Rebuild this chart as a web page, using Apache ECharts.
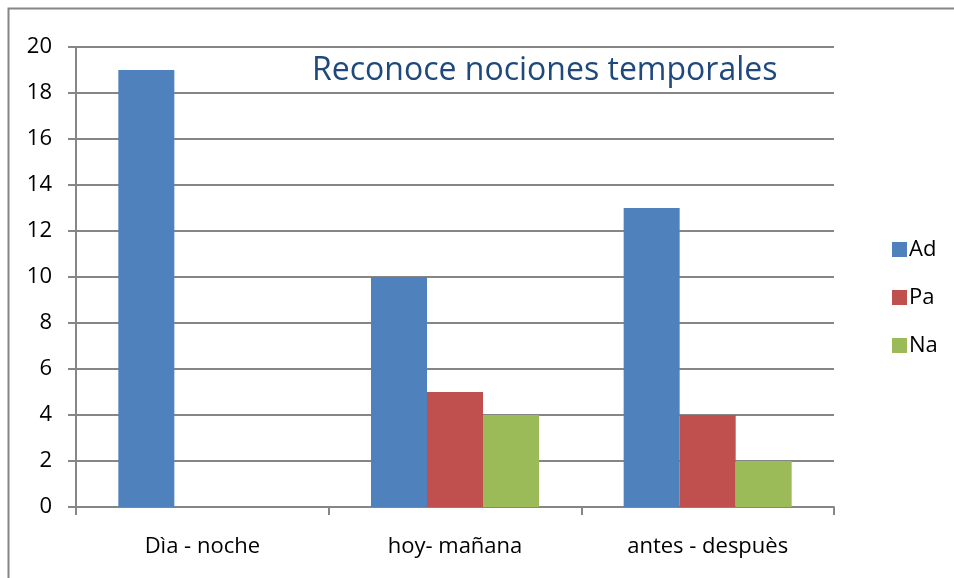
<!DOCTYPE html>
<html>
<head>
<meta charset="utf-8">
<script src="https://cdn.jsdelivr.net/npm/echarts@6/dist/echarts.min.js"></script>
<style>
  html, body { margin: 0; padding: 0; background: #fff; }
  #chart { width: 954px; height: 578px; }
</style>
</head>
<body>
<div id="chart"></div>
<script>
// datos del gráfico
var categorias = ['Dìa - noche', 'hoy- mañana', 'antes - despuès'];
var ad = [19, 10, 13];
var pa = [0, 5, 4];
var na = [0, 4, 2];
var yTicks = [0, 2, 4, 6, 8, 10, 12, 14, 16, 18, 20];

var grisEje = '#868686';
var fuente = 'Open Sans';

var myChart = echarts.init(document.getElementById('chart'));

var option = {
    backgroundColor: '#fff',
    animation: false,
    textStyle: { fontFamily: fuente },
    title: {
        text: 'Reconoce nociones temporales',
        left: 307,
        top: 50,
        textStyle: { color: '#1F497D', fontSize: 32, fontWeight: 'normal', fontFamily: fuente }
    },
    legend: {
        orient: 'vertical',
        left: 887,
        top: 233,
        itemWidth: 15,
        itemHeight: 15,
        itemGap: 25,
        icon: 'rect',
        textStyle: { fontSize: 22, color: '#000', lineHeight: 23, padding: [0, 0, 0, -3] },
        data: ['Ad', 'Pa', 'Na']
    },
    graphic: [{
        type: 'rect',
        shape: { x: 8.5, y: 8.5, width: 1000, height: 1000 },
        style: { fill: 'none', stroke: grisEje, lineWidth: 2 },
        silent: true
    }],
    grid: { left: 76, right: 120, top: 47, bottom: 71 },
    xAxis: {
        type: 'category',
        data: categorias,
        axisLine: { lineStyle: { color: grisEje, width: 2 } },
        axisTick: { show: true, length: 8, lineStyle: { color: grisEje, width: 2 } },
        axisLabel: { fontSize: 22, color: '#000', margin: 29 }
    },
    yAxis: {
        type: 'value',
        min: yTicks[0],
        max: yTicks[yTicks.length - 1],
        interval: yTicks[1] - yTicks[0],
        axisLine: { show: true, lineStyle: { color: grisEje, width: 2 } },
        axisTick: { show: true, length: 8, lineStyle: { color: grisEje, width: 2 } },
        splitLine: { lineStyle: { color: grisEje, width: 2 } },
        axisLabel: { fontSize: 22, color: '#000', margin: 24 }
    },
    series: [
        { name: 'Ad', type: 'bar', data: ad, itemStyle: { color: '#4F81BD' }, barGap: '0%', barCategoryGap: '33.5%' },
        { name: 'Pa', type: 'bar', data: pa, itemStyle: { color: '#C0504D' } },
        { name: 'Na', type: 'bar', data: na, itemStyle: { color: '#9BBB59' } }
    ]
};

myChart.setOption(option);
</script>
</body>
</html>
